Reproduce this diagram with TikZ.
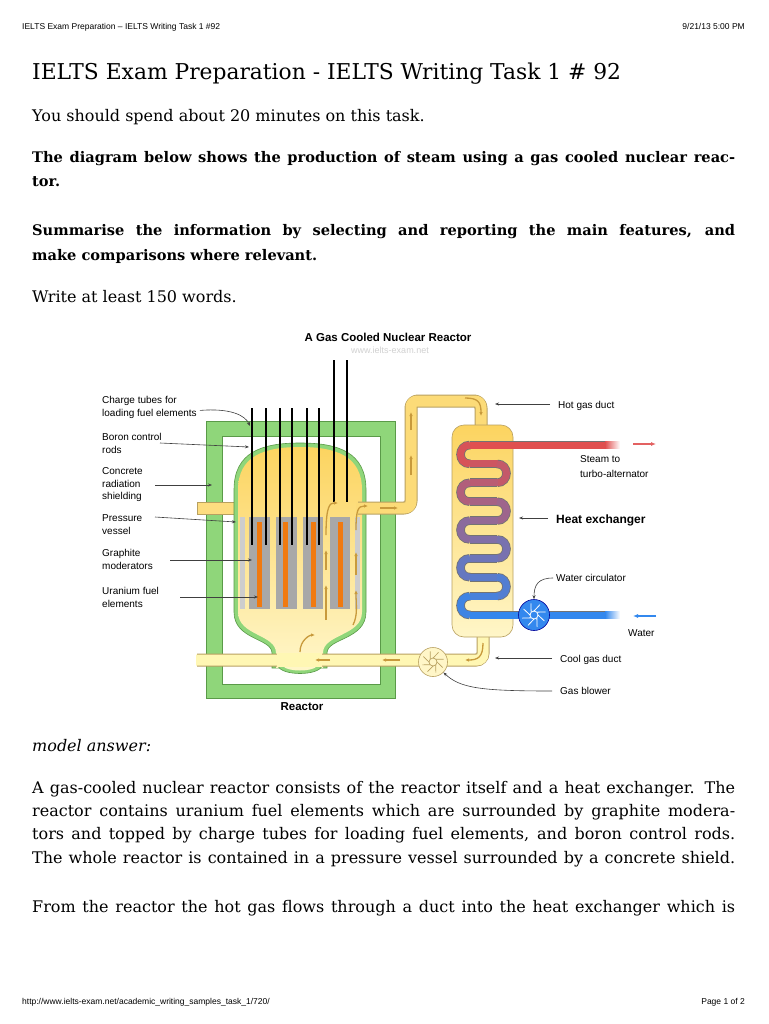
\documentclass[tikz,border=0pt]{standalone}
\usepackage{fontspec}
\setmainfont{DejaVu Serif}
\newfontfamily\dsans{Liberation Sans}
\usetikzlibrary{arrows.meta,shapes.geometric,calc}
\definecolor{cgreen}{HTML}{8FD67A}
\definecolor{cgreenD}{HTML}{5A9A48}
\definecolor{gyel}{HTML}{FCD460}
\definecolor{gyelL}{HTML}{FFF6C8}
\definecolor{ductD}{HTML}{B8A060}
\definecolor{flow}{HTML}{C89A3C}
\definecolor{cred}{HTML}{E05050}
\definecolor{cblue}{HTML}{3388EE}
\definecolor{gray1}{HTML}{A8A8A8}
\definecolor{gray2}{HTML}{CDCDCD}
\definecolor{orng}{HTML}{F07A10}
\tikzset{
 lbl/.style={font=\dsans\fontsize{10}{12}\selectfont,anchor=base west,inner sep=0pt},
 body/.style={font=\fontsize{16}{20}\selectfont,anchor=base west,inner sep=0pt},
 bbody/.style={font=\bfseries\fontsize{14.6}{20}\selectfont,anchor=base west,inner sep=0pt},
 ptr/.style={draw=black!75,line width=0.6pt,-{Stealth[length=4pt,width=3pt]}},
 fl/.style={draw=flow,line width=1.3pt,-{Latex[length=4pt,width=3.5pt]}},
}
\begin{document}
\begin{tikzpicture}[x=1pt,y=-1pt]
\useasboundingbox (0,0) rectangle (768,1024);
\fill[white] (0,0) rectangle (768,1024);
% header
\node[font=\dsans\fontsize{8.5}{10}\selectfont,anchor=base west,inner sep=0pt] (hd) at (22,30) {IELTS Exam Preparation – IELTS Writing Task 1 \#92};
\node[font=\dsans\fontsize{8.5}{10}\selectfont,anchor=base east,inner sep=0pt] (hdt) at (745,30) {9/21/13 5:00 PM};
\node[font=\fontsize{21.8}{26}\selectfont,anchor=base west,inner sep=0pt] (title) at (32,80) {IELTS Exam Preparation - IELTS Writing Task 1 \# 92};
\node[body] (t1) at (32,122) {You should spend about 20 minutes on this task.};
\node[bbody] (t2) at (32,163) {\makebox[703pt][s]{The diagram below shows the production of steam using a gas cooled nuclear reac-}};
\node[bbody] (t3) at (32,187) {tor.};
\node[bbody] (t4) at (32,236) {\makebox[703pt][s]{Summarise the information by selecting and reporting the main features, and}};
\node[bbody] (t5) at (32,260) {make comparisons where relevant.};
\node[body] (t6) at (32,302) {Write at least 150 words.};
% diagram title
\node[font=\dsans\bfseries\fontsize{11.5}{13}\selectfont,inner sep=0pt] (dt) at (388,337) {A Gas Cooled Nuclear Reactor};
\node[font=\dsans\fontsize{9}{10}\selectfont,text=black!18,inner sep=0pt] (wm) at (390,350) {www.ielts-exam.net};
% concrete shield
\fill[cgreen,draw=cgreenD,line width=0.6pt,even odd rule] (206,421) rectangle (395,698) (222,436) rectangle (380,684);
% left duct
\fill[gyel!80!white,draw=ductD,line width=0.6pt] (197,502) rectangle (240,514);
% pressure vessel
\path[fill=cgreen,draw=cgreenD,line width=0.6pt] (234,490) .. controls (234,452) and (262,443) .. (300,443) .. controls (338,443) and (366,452) .. (366,490) -- (366,612) .. controls (366,640) and (327,638) .. (327,653) -- (327,668) -- (272,668) -- (272,653) .. controls (272,638) and (234,640) .. (234,612) -- cycle;
\path[top color=gyel,bottom color=gyelL] (238,490) .. controls (238,456) and (264,447) .. (300,447) .. controls (336,447) and (362,456) .. (362,490) -- (362,612) .. controls (362,636) and (323,634) .. (323,653) -- (323,668) -- (276,668) -- (276,653) .. controls (276,634) and (238,636) .. (238,612) -- cycle;
% bottom bulge
\path[fill=cgreen,draw=cgreenD,line width=0.6pt] (278,666) .. controls (282,676) and (318,676) .. (322,666) -- cycle;
\path[fill=gyelL] (283,666) .. controls (287,672) and (313,672) .. (317,666) -- cycle;
% graphite blocks
\fill[gray2] (240,517) rectangle (245,609);
\fill[gray2] (355,517) rectangle (360,609);
\foreach \a/\b/\o in {249/270/257,276/297/283,303/323/311,330/350/338}{
  \fill[gray1] (\a,517) rectangle (\b,609);
  \fill[orng] (\o,522) rectangle (\o+5,607);
}
% right duct
\draw[ductD,line width=13pt,rounded corners=7pt,line join=round] (358,508) -- (411,508) -- (411,401) -- (481,401) -- (481,430);
\draw[gyel!85!white,line width=11pt,rounded corners=6pt,line join=round] (356,508) -- (411,508) -- (411,401) -- (481,401) -- (481,432);
% bottom duct
\draw[ductD,line width=13pt,rounded corners=7pt] (197,660) -- (483,660) -- (483,634);
\draw[gyelL!90!yellow,line width=11pt,rounded corners=6pt] (196,660) -- (483,660) -- (483,632);
\fill[gyelL!90!yellow] (277,653) rectangle (322,667);
% exchanger
\path[top color=gyel,bottom color=gyelL,draw=ductD,line width=0.6pt,rounded corners=12pt] (452,425) rectangle (513,637);
% control rods
\foreach \x in {252,266,280,292,307,319}{\draw[black,line width=2.2pt] (\x,408) -- (\x,545);}
\foreach \x in {334,347}{\draw[black,line width=2.2pt] (\x,360) -- (\x,502);}
% coil
\def\xl{470}\def\xr{497}\def\rc{12.6}
\draw[black!55,line width=8.6pt] (618,445) -- (\xr,445);
\foreach \k in {0,...,9}{
  \pgfmathsetmacro\y{445+18.889*\k}
  \pgfmathsetmacro\yn{445+18.889*(\k+1)}
  \draw[black!55,line width=8.6pt] (\xl,\y) -- (\xr,\y);
  \ifnum\k<9
   \ifodd\k
    \draw[black!55,line width=8.6pt] (\xr,\y) .. controls (\xr+\rc,\y) and (\xr+\rc,\yn) .. (\xr,\yn);
   \else
    \draw[black!55,line width=8.6pt] (\xl,\y) .. controls (\xl-\rc,\y) and (\xl-\rc,\yn) .. (\xl,\yn);
   \fi
  \fi
}
\draw[black!55,line width=8.6pt] (\xr,615) -- (620,615);
\fill[cred] (618,441.5) rectangle (540,448.5);
\shade[left color=cred,right color=white] (605,441.5) rectangle (620,448.5);
\foreach \k in {0,...,9}{
  \pgfmathsetmacro\y{445+18.889*\k}
  \pgfmathsetmacro\yn{445+18.889*(\k+1)}
  \pgfmathtruncatemacro\p{\k*11}
  \pgfmathtruncatemacro\q{\k*11+5}
  \draw[cblue!\p!cred,line width=7pt] (\xl-0.5,\y) -- (\ifnum\k=0 545\else\xr+0.5\fi,\y);
  \ifnum\k<9
   \ifodd\k
    \draw[cblue!\q!cred,line width=7pt] (\xr,\y) .. controls (\xr+\rc,\y) and (\xr+\rc,\yn) .. (\xr,\yn);
   \else
    \draw[cblue!\q!cred,line width=7pt] (\xl,\y) .. controls (\xl-\rc,\y) and (\xl-\rc,\yn) .. (\xl,\yn);
   \fi
  \fi
}
\fill[cblue] (\xr,611.5) rectangle (606,618.5);
\shade[left color=cblue,right color=white] (605,611.5) rectangle (620,618.5);
% water pump
\node[circle,minimum size=31pt,inner sep=0pt,fill=cblue,draw=blue!60!black,line width=0.6pt] (pump) at (534,615) {};
\foreach \a in {0,45,...,315}{\draw[white,line width=0.8pt] ($(534,615)+(\a:4)$) -- ($(534,615)+(\a+30:12)$);}
\draw[white,line width=0.8pt] (534,615) circle[radius=4pt];
% gas blower
\node[circle,minimum size=29pt,inner sep=0pt,fill=gyelL,draw=ductD,line width=0.6pt] (blower) at (433,662) {};
\foreach \a in {0,45,...,315}{\draw[ductD,line width=0.7pt] ($(433,662)+(\a:4)$) -- ($(433,662)+(\a+30:11)$);}
\draw[ductD,line width=0.7pt] (433,662) circle[radius=4pt];
% flow arrows
\draw[fl] (411,475) -- (411,455);
\draw[fl] (411,430) -- (411,412);
\draw[fl] (465,398) .. controls (478,398) and (481,402) .. (481,416);
\draw[fl] (483,643) .. controls (483,657) and (478,660) .. (465,660);
\draw[fl] (400,660) -- (382,660);
\draw[fl] (330,660) -- (315,660);
\draw[fl] (300,652) .. controls (300,640) and (310,635) .. (315,635);
\draw[fl] (326,620) .. controls (326,605) and (326,600) .. (326,585);
\draw[fl] (353,625) .. controls (358,615) and (356,605) .. (356,590);
\draw[fl] (326,570) -- (326,550);
\draw[fl] (356,575) -- (356,552);
\draw[fl] (326,535) .. controls (326,505) and (330,503) .. (338,503);
\draw[fl] (356,530) .. controls (356,510) and (358,506) .. (368,506);
\draw[fl] (380,508) -- (398,508);
% labels left
\node[lbl] (l1) at (102,403) {Charge tubes for};
\node[lbl] (l1b) at (102,416) {loading fuel elements};
\node[lbl] (l2) at (102,440) {Boron control};
\node[lbl] (l2b) at (102,453) {rods};
\node[lbl] (l3) at (102,474) {Concrete};
\node[lbl] (l3b) at (102,487) {radiation};
\node[lbl] (l3c) at (102,499) {shielding};
\node[lbl] (l4) at (102,521) {Pressure};
\node[lbl] (l4b) at (102,534) {vessel};
\node[lbl] (l5) at (102,556) {Graphite};
\node[lbl] (l5b) at (102,569) {moderators};
\node[lbl] (l6) at (102,594) {Uranium fuel};
\node[lbl] (l6b) at (102,607) {elements};
\coordinate (c1) at (250,426);
\coordinate (c2) at (249,447);
\coordinate (c3) at (212,485);
\coordinate (c4) at (236,522);
\coordinate (c5) at (252,560);
\coordinate (c6) at (258,597);
\draw[ptr] (l1b.east) ++(3,-3) .. controls (230,408) and (245,415) .. (c1);
\draw[ptr] (160,443) -- (c2);
\draw[ptr] (155,485) -- (c3);
\draw[ptr] (155,517) -- (c4);
\draw[ptr] (170,560) -- (c5);
\draw[ptr] (180,597) -- (c6);
% labels right
\node[lbl] (hg) at (558,408) {Hot gas duct};
\coordinate (hgt) at (495,404);
\draw[ptr] (550,404) -- (hgt);
\node[lbl] (st) at (580,462) {Steam to};
\node[lbl] (st2) at (580,477) {turbo-alternator};
\draw[cred!90,line width=1.3pt,-{Latex[length=5pt,width=4pt]}] (633,444) -- (656,444);
\node[lbl,font=\dsans\bfseries\fontsize{12}{14}\selectfont] (hx) at (556,523) {Heat exchanger};
\coordinate (hxt) at (519,518);
\draw[ptr] (548,518) -- (hxt);
\node[lbl] (wc) at (556,581) {Water circulator};
\draw[ptr] (553,578) .. controls (538,578) and (534,585) .. (pump.north);
\draw[cblue,line width=1.3pt,-{Latex[length=5pt,width=4pt]}] (656,616) -- (633,616);
\node[lbl] (wa) at (628,636) {Water};
\node[lbl] (cg) at (560,662) {Cool gas duct};
\coordinate (cgt) at (495,658);
\draw[ptr] (552,658) -- (cgt);
\node[lbl] (gb) at (560,694) {Gas blower};
\draw[ptr] (552,691) .. controls (480,691) and (460,688) .. (blower.south east);
\node[font=\dsans\bfseries\fontsize{11.5}{13}\selectfont,inner sep=0pt] (rx) at (302,707) {Reactor};
% model answer
\node[body,font=\itshape\fontsize{16}{20}\selectfont] (ma) at (32,751) {model answer:};
\node[body] (p1) at (32,793) {\makebox[703pt][s]{A gas-cooled nuclear reactor consists of the reactor itself and a heat exchanger. The}};
\node[body] (p2) at (32,816) {\makebox[703pt][s]{reactor contains uranium fuel elements which are surrounded by graphite modera-}};
\node[body] (p3) at (32,839) {\makebox[703pt][s]{tors and topped by charge tubes for loading fuel elements, and boron control rods.}};
\node[body] (p4) at (32,863) {\makebox[703pt][s]{The whole reactor is contained in a pressure vessel surrounded by a concrete shield.}};
\node[body] (p5) at (32,912) {\makebox[703pt][s]{From the reactor the hot gas flows through a duct into the heat exchanger which is}};
\node[font=\dsans\fontsize{8.5}{10}\selectfont,anchor=base west,inner sep=0pt] (ft) at (22,1004) {http://www.ielts-exam.net/academic\_writing\_samples\_task\_1/720/};
\node[font=\dsans\fontsize{8.5}{10}\selectfont,anchor=base east,inner sep=0pt] (pg) at (745,1004) {Page 1 of 2};
\end{tikzpicture}
\end{document}
